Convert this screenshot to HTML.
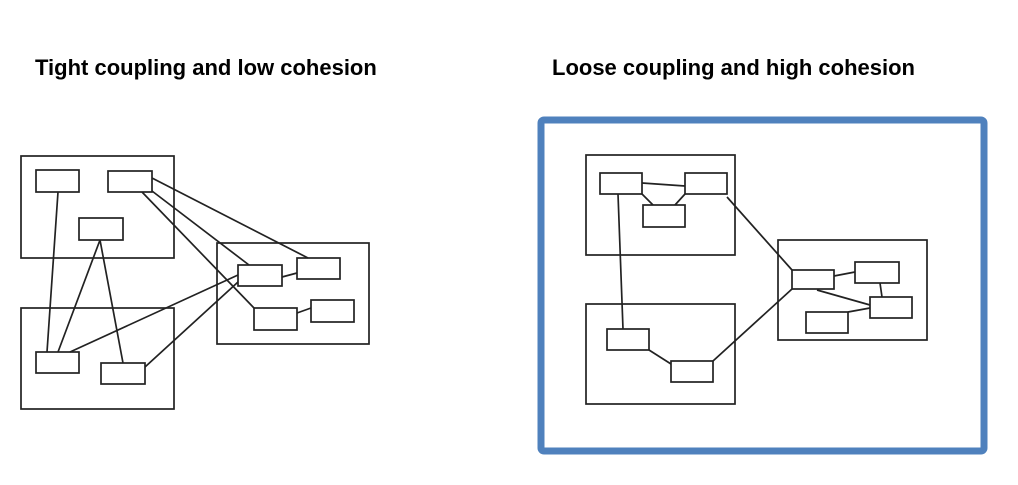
<!DOCTYPE html>
<html><head><meta charset="utf-8"><style>
body{margin:0;background:#fff;width:1018px;height:485px;overflow:hidden}
svg{display:block}
text{font-family:"Liberation Sans",Arial,sans-serif;font-weight:bold;font-size:22px;fill:#000}
</style></head><body>
<svg width="1018" height="485" viewBox="0 0 1018 485">
<text x="35" y="75">Tight coupling and low cohesion</text>
<text x="552" y="75">Loose coupling and high cohesion</text>
<rect x="541" y="120" width="443" height="331" rx="3" fill="none" stroke="#4f81bd" stroke-width="7"/>
<g fill="none" stroke="#222" stroke-width="1.7">
<rect x="21" y="156" width="153" height="102"/>
<rect x="21" y="308" width="153" height="101"/>
<rect x="217" y="243" width="152" height="101"/>
<rect x="36" y="170" width="43" height="22"/>
<rect x="108" y="171" width="44" height="21"/>
<rect x="79" y="218" width="44" height="22"/>
<rect x="36" y="352" width="43" height="21"/>
<rect x="101" y="363" width="44" height="21"/>
<rect x="238" y="265" width="44" height="21"/>
<rect x="297" y="258" width="43" height="21"/>
<rect x="254" y="308" width="43" height="22"/>
<rect x="311" y="300" width="43" height="22"/>
<path d="M58 192L47 352M100 240L58 352M100 240L123 363M152 178L308 258M152 191L249 265M142 192L254 308M70 352L238 275M145 367L238 282M282 277L297 273M297 313L311 308"/>
</g>
<g fill="none" stroke="#222" stroke-width="1.7">
<rect x="586" y="155" width="149" height="100"/>
<rect x="586" y="304" width="149" height="100"/>
<rect x="778" y="240" width="149" height="100"/>
<rect x="600" y="173" width="42" height="21"/>
<rect x="685" y="173" width="42" height="21"/>
<rect x="643" y="205" width="42" height="22"/>
<rect x="607" y="329" width="42" height="21"/>
<rect x="671" y="361" width="42" height="21"/>
<rect x="792" y="270" width="42" height="19"/>
<rect x="855" y="262" width="44" height="21"/>
<rect x="870" y="297" width="42" height="21"/>
<rect x="806" y="312" width="42" height="21"/>
<path d="M642 183L685 186M642 194L653 205M685 194L675 205M618 194L623 329M727 197L792 270M649 350L671 364M713 361L792 289M834 276L855 272M880 283L882 297M817 290L870 305M848 312L870 308"/>
</g>
</svg>
</body></html>
